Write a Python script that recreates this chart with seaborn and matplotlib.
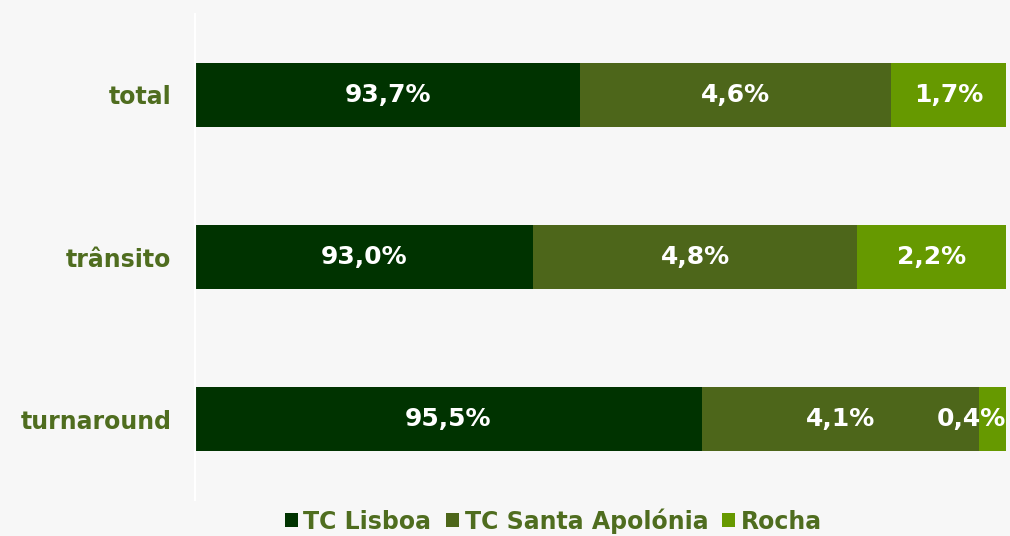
import numpy as np
import pandas as pd

import matplotlib
matplotlib.use('Agg')
import matplotlib.pyplot as plt
from matplotlib.patches import Patch
from matplotlib import font_manager as fm
import seaborn as sns

categories = ['total', 'trânsito', 'turnaround']
tc_lisboa = [93.7, 93.0, 95.5]
tc_santa_apolonia = [4.6, 4.8, 4.1]
rocha = [1.7, 2.2, 0.4]
series_names = ['TC Lisboa', 'TC Santa Apolónia', 'Rocha']
colors = ['#003300', '#4d661a', '#669900']
text_green = '#4f6d1f'

sns.set_style('white')
plt.rcParams['font.family'] = ['DejaVu Sans']

# pick the regular-width DejaVu Sans Bold file explicitly (avoid the condensed face)
bold_file = None
for f in fm.fontManager.ttflist:
    if f.name == 'DejaVu Sans' and f.weight in (700, 'bold') and f.style == 'normal' \
            and f.stretch == 'normal' and 'Condensed' not in f.fname:
        bold_file = f.fname
        break

def bold(size):
    if bold_file:
        return fm.FontProperties(fname=bold_file, size=size)
    return fm.FontProperties(family='DejaVu Sans', weight='bold', size=size)

df = pd.DataFrame({'cat': categories, 'TC Lisboa': tc_lisboa,
                   'TC Santa Apolónia': tc_santa_apolonia, 'Rocha': rocha})
df['c1'] = df['TC Lisboa']
df['c2'] = df['c1'] + df['TC Santa Apolónia']
df['c3'] = df['c2'] + df['Rocha']

fig = plt.figure(figsize=(10.1, 5.36), dpi=100, facecolor='#f7f7f7')
ax = fig.add_axes([0.193, 0.067, 0.803, 0.907])
ax.set_facecolor('#f7f7f7')

# stacked bars drawn as cumulative totals, largest first
for col, c in zip(['c3', 'c2', 'c1'], colors[::-1]):
    sns.barplot(data=df, x=col, y='cat', color=c, width=0.4, orient='h',
                saturation=1, linewidth=0, ax=ax)

ax.set_xlim(88, 100)
ax.set_ylim(2.5, -0.5)
ax.set_xlabel('')
ax.set_ylabel('')
ax.set_xticks([])
for s in ['top', 'right', 'bottom']:
    ax.spines[s].set_visible(False)
ax.spines['left'].set_color('white')
ax.spines['left'].set_linewidth(1.5)
ax.tick_params(axis='y', length=0, pad=17)
for lab in ax.get_yticklabels():
    lab.set_fontproperties(bold(17))
    lab.set_color(text_green)

def fmt(v):
    return ('%.1f%%' % v).replace('.', ',')

for i in range(len(categories)):
    starts = [88, df['c1'][i], df['c2'][i]]
    ends = [df['c1'][i], df['c2'][i], df['c3'][i]]
    vals = [tc_lisboa[i], tc_santa_apolonia[i], rocha[i]]
    for s, e, v in zip(starts, ends, vals):
        if v < 1:
            ax.text(100.0, i, fmt(v), ha='right', va='center', color='white',
                    fontproperties=bold(18))
        else:
            ax.text((s + e) / 2, i, fmt(v), ha='center', va='center', color='white',
                    fontproperties=bold(18))

handles = [Patch(facecolor=c, edgecolor='none') for c in colors]
leg = fig.legend(handles, series_names, loc='lower center', ncol=3, frameon=False,
                 bbox_to_anchor=(0.548, -0.035), handlelength=0.55, handleheight=0.55,
                 handletextpad=0.25, columnspacing=0.6, prop=bold(17))
for t in leg.get_texts():
    t.set_color(text_green)

fig.savefig('out.png', dpi=100, facecolor=fig.get_facecolor())
plt.close()
